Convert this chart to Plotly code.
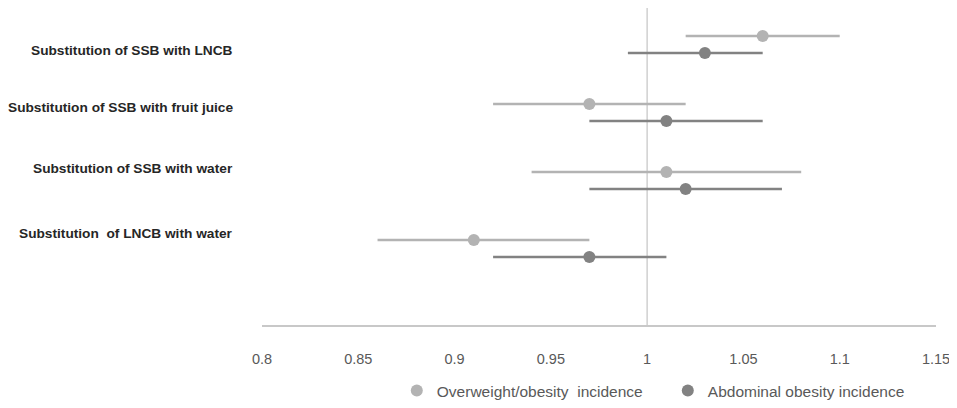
import plotly.graph_objects as go

# substitution scenarios, top to bottom
labels = [
    "Substitution of SSB with LNCB",
    "Substitution of SSB with fruit juice",
    "Substitution of SSB with water",
    "Substitution  of LNCB with water",
]

# overweight/obesity incidence: estimate and 95% CI
ow_est = [1.06, 0.97, 1.01, 0.91]
ow_low = [1.02, 0.92, 0.94, 0.86]
ow_high = [1.10, 1.02, 1.08, 0.97]

# abdominal obesity incidence: estimate and 95% CI
ab_est = [1.03, 1.01, 1.02, 0.97]
ab_low = [0.99, 0.97, 0.97, 0.92]
ab_high = [1.06, 1.06, 1.07, 1.01]

x_ticks = [0.8, 0.85, 0.9, 0.95, 1, 1.05, 1.1, 1.15]

LIGHT = "#b3b3b3"
DARK = "#828282"

n = len(labels)
centers = [n - i for i in range(n)]
y_ow = [c + 0.125 for c in centers]
y_ab = [c - 0.125 for c in centers]

fig = go.Figure()

fig.add_trace(go.Scatter(
    x=ow_est, y=y_ow, mode="markers",
    name="Overweight/obesity  incidence",
    marker=dict(color=LIGHT, size=12),
    error_x=dict(
        type="data", symmetric=False,
        array=[h - e for h, e in zip(ow_high, ow_est)],
        arrayminus=[e - l for e, l in zip(ow_est, ow_low)],
        color=LIGHT, thickness=2.4, width=0,
    ),
))

fig.add_trace(go.Scatter(
    x=ab_est, y=y_ab, mode="markers",
    name="Abdominal obesity incidence",
    marker=dict(color=DARK, size=12),
    error_x=dict(
        type="data", symmetric=False,
        array=[h - e for h, e in zip(ab_high, ab_est)],
        arrayminus=[e - l for e, l in zip(ab_est, ab_low)],
        color=DARK, thickness=2.4, width=0,
    ),
))

# reference line at 1
fig.add_shape(type="line", xref="x", yref="paper", x0=1, x1=1, y0=0, y1=1,
              line=dict(color="#d0d0d0", width=1.5), layer="below")

# row labels sit a little off the group centres, as in the original
label_shift = [-6, 5, 12, 15]
for c, txt, s in zip(centers, labels, label_shift):
    fig.add_annotation(
        x=0, xref="paper", xanchor="right", xshift=-27,
        y=c, yref="y", yshift=s, yanchor="middle",
        text="<b>" + txt + "</b>", showarrow=False,
        font=dict(family="Liberation Sans", size=13.7, color="#262626"),
    )

# page body has an 8px margin, so the figure is 8px smaller than the window
fig.update_layout(
    width=949, height=400,
    paper_bgcolor="white", plot_bgcolor="white",
    margin=dict(l=254, r=21, t=0, b=83),
    showlegend=True,
    legend=dict(
        orientation="h", x=0.2, xanchor="left", y=-0.262, yanchor="bottom",
        font=dict(family="Liberation Sans", size=15.5, color="#595959"),
        itemsizing="constant", itemwidth=30,
        entrywidth=226, entrywidthmode="pixels",
    ),
    font=dict(family="Liberation Sans", color="#595959"),
)

fig.update_xaxes(
    range=[0.8, 1.15], tickvals=x_ticks,
    ticktext=[f"{v:g}" for v in x_ticks],
    showgrid=False, zeroline=False,
    showline=True, linecolor="#c8c8c8", linewidth=1.5,
    ticks="", tickfont=dict(family="Liberation Sans", size=14.5, color="#595959"),
    ticklabelstandoff=20,
)
fig.update_yaxes(
    range=[-0.125, 4.537], showgrid=False, zeroline=False,
    showticklabels=False, showline=False,
)

fig.write_html("out.html")
